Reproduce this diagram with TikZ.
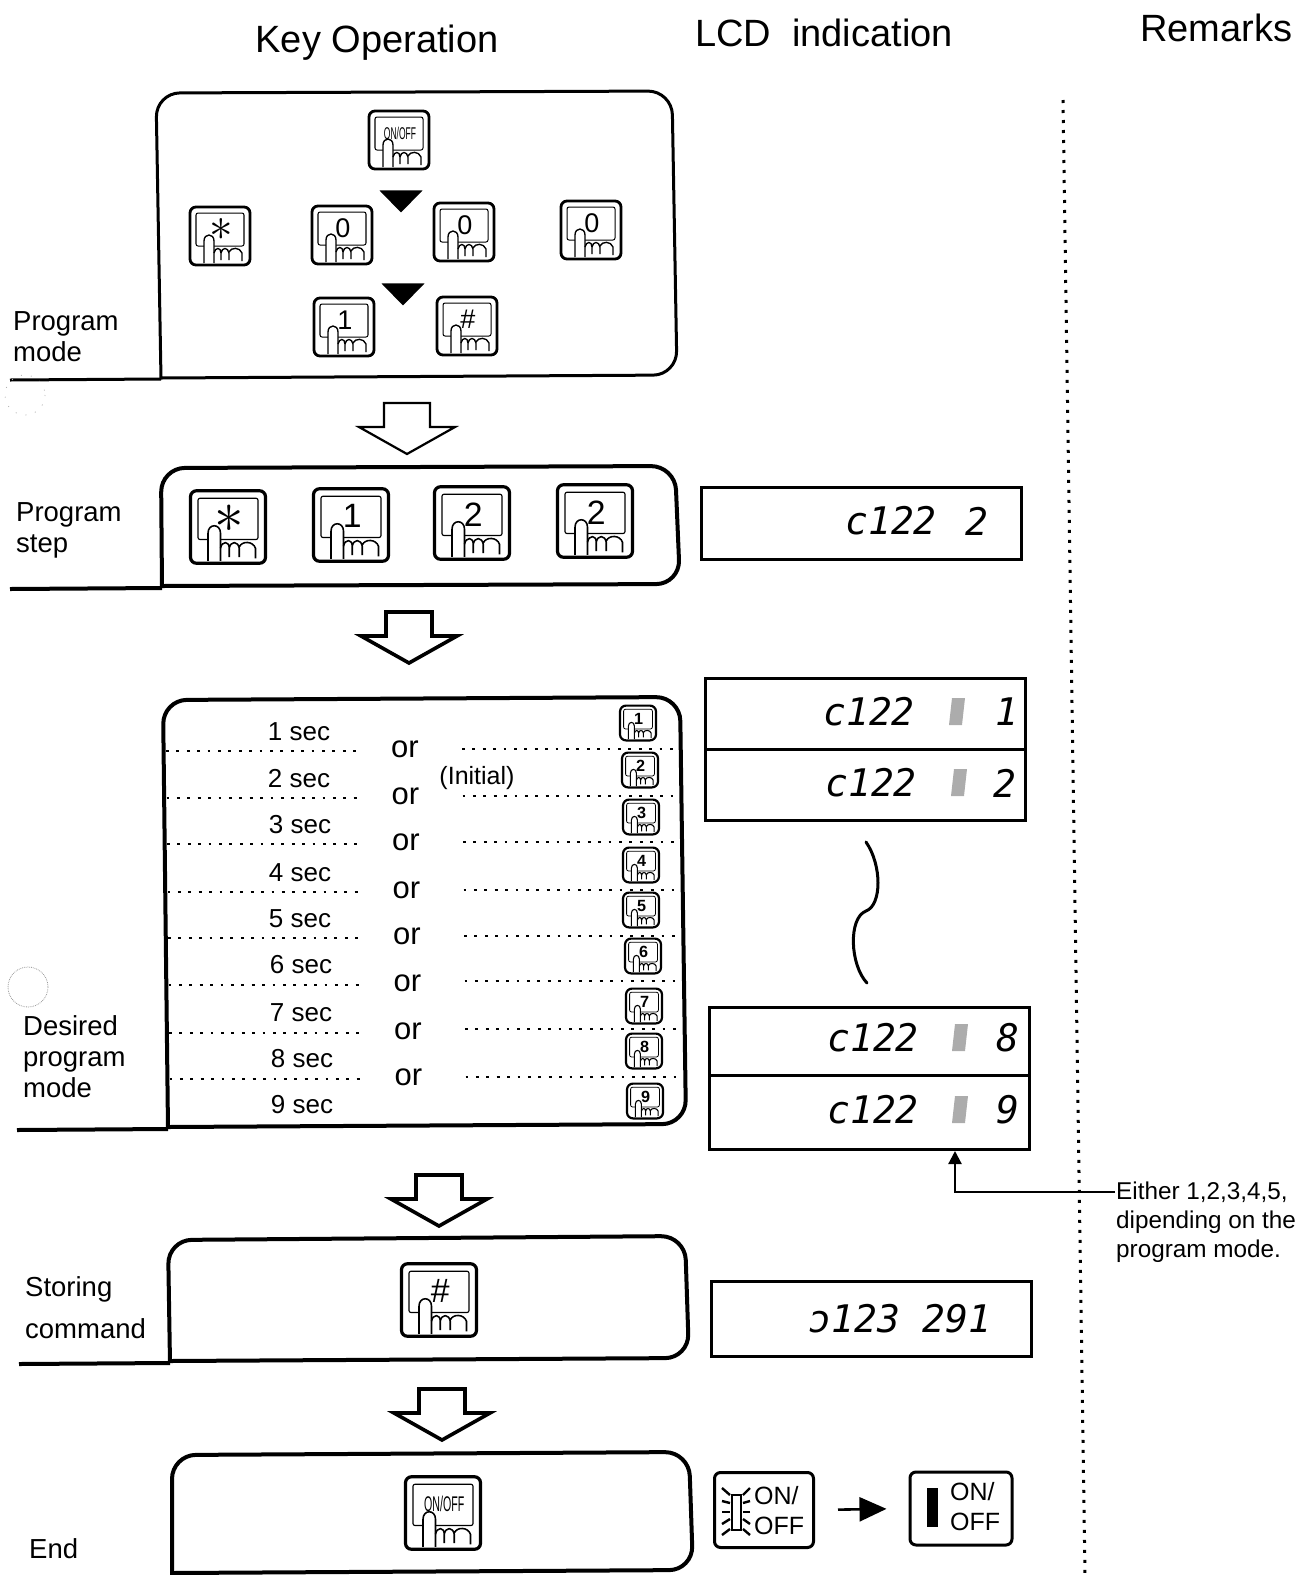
\documentclass[tikz,border=0pt]{standalone}
\usepackage{fontspec}
\setmainfont{Liberation Sans}
\setmonofont{DejaVu Sans Mono}
\usetikzlibrary{positioning,arrows.meta,shapes.geometric}
\tikzset{
heading/.style={font=\fontsize{38}{42}\selectfont}, % column titles
sidelabel/.style={anchor=west, align=left, inner sep=0pt, font=\fontsize{27.5}{31}\selectfont}, % labels left of the blocks
rowtext/.style={inner sep=0pt, font=\fontsize{26}{30}\selectfont}, % 1 sec .. 9 sec
ortext/.style={inner sep=0pt, font=\fontsize{31}{34}\selectfont},
blockline/.style={line width=4pt}, % outline of the big blocks
downtri/.style={isosceles triangle, isosceles triangle stretches, fill=black, anchor=apex, shape border rotate=270,
  inner sep=0pt, minimum width=43pt, minimum height=22pt},
lcdbox/.style={draw, line width=3pt, minimum width=320pt, inner sep=0pt},
lcdtext/.style={inner sep=0pt, font=\fontsize{38}{40}\selectfont\ttfamily\itshape},
dotrow/.style={line width=2.8pt, dash pattern=on 2.8pt off 7.6pt},
keylabel/.style={inner sep=0pt, transform shape, font=\fontsize{27}{29}\selectfont},
ledbox/.style={draw, line width=3pt, rounded corners=6pt, inner sep=0pt},
ledtext/.style={anchor=west, align=left, inner sep=0pt, font=\fontsize{25}{30}\selectfont},
pics/keybtn/.style={code={
  \draw[rounded corners=6pt, fill=white] (-30,-29) rectangle (30,29);
  \draw[line width=0.6\pgflinewidth, rounded corners=2pt] (-24,-23) rectangle (24,10);
  \node[keylabel] (-label) at (1,-7) {#1};
  \draw[line width=0.7\pgflinewidth, fill=white] (-16,27) -- (-16,5) .. controls (-16,-3) and (-6,-3) .. (-6,5) -- (-6,27);
  \draw[line width=0.7\pgflinewidth] (-6,17) .. controls (-5,11) and (1,11) .. (1,17) -- (1,24)
    (1,17) .. controls (2,11) and (8,11) .. (9,17) -- (9,24)
    (9,16) .. controls (11,11) and (20,11) .. (22,17) -- (22,25);
}},
pics/blockarrow/.style={code={
  \draw[fill=white, miter limit=8] (-23,-51) -- (23,-51) -- (23,-27) -- (48,-27) -- (0,0) -- (-48,-27) -- (-23,-27) -- cycle;
}},
}
\newcommand{\onoff}{\scalebox{.5}[1]{\fontsize{17}{19}\selectfont ON/OFF}}
\newcommand{\starkey}{\scalebox{1.9}{\fontsize{24}{24}\selectfont$\ast$}}

\begin{document}
\begin{tikzpicture}[x=1pt,y=-1pt]
\useasboundingbox (0,0) rectangle (1296,1575);

\node[heading] (keyhead) at (377,43) {Key Operation};
\node[heading] (lcdhead) at (824,33) {LCD\ \ indication};
\node[heading] (remhead) at (1216,28) {Remarks};
\draw[line width=3pt, dash pattern=on 3pt off 7pt] (1063,100) -- (1085,1575);

% program mode
\draw[blockline, line width=3pt] (10,380) -- (161,379);
\draw[blockline, line width=3pt, rounded corners=24pt] (161,379) -- (156,93) -- (672,91) -- (677,375) -- (161,378);
\node[sidelabel] (lblmode) at (13,337) {Program\\mode};
\pic (keyon) [line width=2.8pt] at (399,140) {keybtn={\onoff}};
\node[downtri] (triA) at (401,213) {};
\pic (keystar) [line width=2.8pt] at (220,236) {keybtn={\starkey}};
\pic (keyzeroA) [line width=2.8pt] at (342,235) {keybtn={0}};
\pic (keyzeroB) [line width=2.8pt] at (464,232) {keybtn={0}};
\pic (keyzeroC) [line width=2.8pt] at (591,230) {keybtn={0}};
\node[downtri] (triB) at (403,306) {};
\pic (keyone) [line width=2.8pt] at (344,327) {keybtn={1}};
\pic (keyhash) [line width=2.8pt] at (467,326) {keybtn={\#}};
\pic (arrowA) [line width=2.2pt] at (407,454) {blockarrow};

% program step
\draw[blockline] (10,589) -- (162,588);
\draw[blockline, rounded corners=24pt] (162,588) -- (161,468) -- (675,466) -- (680,584) -- (162,586);
\node[sidelabel] (lblstep) at (16,530) {Program\\step};
\pic (stepstar) [scale=1.25, line width=3.2pt] at (228,527) {keybtn={\starkey}};
\pic (stepone) [scale=1.25, line width=3.2pt] at (351,525) {keybtn={1}};
\pic (steptwoA) [scale=1.25, line width=3.2pt] at (472,523) {keybtn={2}};
\pic (steptwoB) [scale=1.25, line width=3.2pt] at (595,521) {keybtn={2}};
\node[lcdbox, minimum height=72pt] (lcdstep) at (861,523) {};
\node[lcdtext] (txtstep) at (891,521) {c122};
\node[lcdtext] (digstep) at (977,521) {2};
\pic (arrowB) [line width=3.6pt] at (409,663) {blockarrow};

% desired program mode
\draw[blockline] (17,1130) -- (168,1129);
\draw[blockline, rounded corners=24pt] (168,1129) -- (163,700) -- (680,697) -- (686,1124) -- (168,1127);
\node[sidelabel] (lbldesired) at (23,1057) {Desired\\program\\mode};
\foreach \n/\yl/\yr/\yo in {1/751/749/749,2/798/796/796,3/844/842/842,4/892/890/890,5/938/936/936,6/985/981/983,7/1033/1029/1031,8/1079/1077/1077}{
  \pgfmathsetmacro{\dx}{(\n-1)*0.5}
  \draw[dotrow] ({166+\dx},\yl) -- ({363+\dx},\yl);
  \draw[dotrow] ({462+\dx},\yr) -- ({676+\dx},\yr);
  \node[ortext] (or\n) at ({405+\dx},\yo) {or};
}
\foreach \n/\x/\y/\kx/\ky in {1/299/732/638/723,2/299/779/640/770,3/300/825/641/817,4/300/873/641/865,5/300/919/641/910,6/301/965/643/956,7/301/1013/644/1006,8/302/1059/644/1051,9/302/1105/645/1101}{
  \node[rowtext] (sec\n) at (\x,\y) {\n\ sec};
  \pic (sel\n) [scale=0.6, line width=2.2pt] at (\kx,\ky) {keybtn={\bfseries\n}};
}
\node[inner sep=0pt, font=\fontsize{25}{28}\selectfont] (initial) at (477,778) {(Initial)};
\draw[gray!80, line width=0.8pt, densely dotted] (28,987) circle (20);
\draw[gray!60, line width=0.8pt, dash pattern=on 1pt off 9pt] (25,395) circle (20);

\node[lcdbox, minimum height=71pt] (lcdone) at (865,713.5) {};
\node[lcdbox, minimum height=71pt] (lcdtwo) at (865,784.5) {};
\node[lcdbox, minimum height=68pt] (lcdeight) at (869,1041) {};
\node[lcdbox, minimum height=74pt] (lcdnine) at (869,1112) {};
\foreach \name/\tx/\y/\gx/\dx/\digit in {one/869/712/955/1007/1,two/871/783/957/1005/2,eight/873/1038/958/1008/8,nine/873/1110/958/1008/9}{
  \node[lcdtext] (txt\name) at (\tx,\y) {c122};
  \fill[gray!65] ({\gx-6},{\y+13}) -- ({\gx-3},{\y-14}) -- ({\gx+10},{\y-14}) -- ({\gx+7},{\y+13}) -- cycle;
  \node[lcdtext] (dig\name) at (\dx,\y) {\digit};
}
\draw[line width=3pt, line cap=round] (866,842) .. controls (882,865) and (882,905) .. (866,911) .. controls (848,918) and (850,965) .. (867,983);

% remark and its leader
\node[anchor=north west, align=left, inner sep=0pt, font=\fontsize{24.3}{29}\selectfont] (remark) at (1116,1182) {Either 1,2,3,4,5,\\dipending on the\\program mode.};
\coordinate (remarkend) at (1115,1192);
\coordinate (lcdtip) at (955,1151);
\draw[line width=2.2pt, -{Triangle[length=13pt,width=13pt]}] (remarkend) -| (lcdtip);
\pic (arrowC) [line width=3.6pt] at (439,1226) {blockarrow};

% storing command
\draw[blockline] (19,1364) -- (170,1363);
\draw[blockline, rounded corners=24pt] (170,1363) -- (168,1240) -- (685,1236) -- (689,1358) -- (170,1361);
\node[sidelabel, font=\fontsize{27.5}{42}\selectfont] (lblstore) at (25,1308) {Storing\\command};
\pic (storehash) [scale=1.25, line width=3.2pt] at (439,1300) {keybtn={\#}};
\node[lcdbox, minimum height=75pt] (lcdstore) at (871,1319) {};
\node[lcdtext] (txtstore) at (900,1319) {ɔ123 291};
\pic (arrowD) [line width=3.6pt] at (442,1440) {blockarrow};

% end
\draw[blockline, rounded corners=24pt] (172,1578) -- (172,1455) -- (689,1452) -- (693,1570) -- (172,1573);
\node[sidelabel] (lblend) at (29,1549) {End};
\pic (endon) [scale=1.25, line width=3.2pt] at (443,1513) {keybtn={\onoff}};
\node[ledbox, minimum width=99pt, minimum height=75pt] (ledon) at (764,1510) {};
\node[ledbox, minimum width=102pt, minimum height=73pt] (ledoff) at (961,1508.5) {};
\draw[line width=2.4pt, fill=white] (732,1495) rectangle (741,1530);
\foreach \a/\b in {-24/-17,-11/-9,0/0,12/7,23/17}{
  \draw[line width=2.4pt] (722,{1512+\a}) -- (730,{1512+\b});
  \draw[line width=2.4pt] (750,{1512+\a}) -- (743,{1512+\b});
}
\node[ledtext] (ledontext) at (754,1511) {ON/\\OFF};
\fill (927,1488) rectangle (938,1527);
\node[ledtext] (ledofftext) at (950,1507) {ON/\\OFF};
\draw[line width=2.6pt, -{Triangle[length=27pt,width=24pt]}, shorten <=23pt, shorten >=22pt] (ledon.east) -- (ledoff.west);
\end{tikzpicture}
\end{document}
